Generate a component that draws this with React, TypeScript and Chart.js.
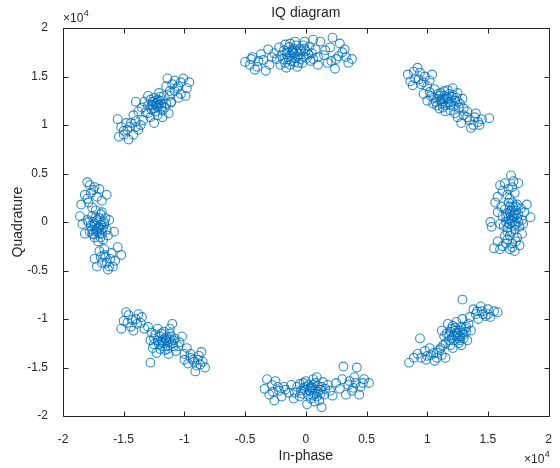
import React, { useEffect, useRef } from "react";
import { Chart, registerables } from "chart.js";

Chart.register(...registerables);

// Values in units of 1e4 (In-phase, Quadrature)
const clusterTop: [number, number][] = [
  [-0.10, 1.74], [-0.05, 1.78], [-0.15, 1.70], [-0.02, 1.70], [-0.18, 1.77], [-0.08, 1.82], [-0.12, 1.66], [0.00, 1.76],
  [-0.20, 1.72], [-0.06, 1.73], [-0.14, 1.80], [0.03, 1.81], [-0.09, 1.69], [-0.17, 1.64], [-0.03, 1.64], [-0.22, 1.80],
  [0.05, 1.74], [-0.11, 1.77], [-0.07, 1.60], [-0.24, 1.68], [-0.01, 1.86], [-0.13, 1.84], [0.06, 1.68], [-0.16, 1.59],
  [-0.50, 1.65], [-0.44, 1.70], [-0.40, 1.60], [-0.35, 1.67], [-0.30, 1.62], [-0.42, 1.57], [-0.33, 1.56], [-0.28, 1.70],
  [-0.46, 1.62], [-0.37, 1.73], [-0.31, 1.78],
  [0.15, 1.72], [0.20, 1.80], [0.25, 1.68], [0.30, 1.75], [0.18, 1.64], [0.28, 1.84], [0.33, 1.70], [0.35, 1.64],
  [0.12, 1.86], [0.22, 1.90], [0.10, 1.62], [0.24, 1.58], [0.32, 1.78],
  [-0.08, 1.76], [-0.12, 1.72], [-0.04, 1.68], [-0.19, 1.68], [-0.10, 1.79], [0.02, 1.73], [-0.15, 1.75], [-0.06, 1.64],
  [-0.21, 1.62], [0.08, 1.78], [-0.01, 1.79], [-0.13, 1.62], [0.10, 1.70], [-0.26, 1.74], [0.04, 1.66], [-0.09, 1.86],
  [-0.17, 1.83], [0.16, 1.77], [0.27, 1.71], [0.21, 1.66], [-0.39, 1.66], [-0.45, 1.68], [0.38, 1.68], [0.06, 1.88],
  [-0.11, 1.75], [-0.07, 1.71], [-0.14, 1.68], [-0.04, 1.76], [-0.09, 1.65], [-0.16, 1.73], [-0.02, 1.82], [0.01, 1.69],
];
const clusterTopRight: [number, number][] = [
  [1.15, 1.27], [1.10, 1.30], [1.20, 1.24], [1.12, 1.22], [1.18, 1.32], [1.05, 1.28], [1.24, 1.28], [1.14, 1.35],
  [1.08, 1.20], [1.22, 1.19], [1.17, 1.27], [1.02, 1.34], [1.27, 1.22], [1.11, 1.26], [1.19, 1.15], [1.06, 1.37],
  [1.25, 1.33], [1.13, 1.18], [1.00, 1.25], [1.21, 1.38],
  [0.84, 1.52], [0.90, 1.48], [0.92, 1.59], [0.95, 1.42], [0.98, 1.50], [0.88, 1.41], [1.02, 1.46], [0.94, 1.54],
  [0.86, 1.45], [1.00, 1.40], [1.04, 1.52],
  [1.30, 1.10], [1.35, 1.05], [1.40, 1.12], [1.28, 1.02], [1.38, 1.00], [1.45, 1.06], [1.51, 1.07], [1.33, 1.14],
  [1.25, 1.08], [1.43, 1.00], [1.36, 0.97], [1.30, 1.17],
  [1.16, 1.29], [1.12, 1.24], [1.19, 1.21], [1.09, 1.32], [1.23, 1.25], [1.14, 1.30], [1.07, 1.24], [1.17, 1.36],
  [1.26, 1.18], [1.03, 1.30], [1.20, 1.29], [1.10, 1.17], [1.29, 1.27], [0.97, 1.32], [1.15, 1.14], [0.93, 1.47],
  [0.89, 1.55], [1.33, 1.08], [1.42, 1.03], [1.39, 1.08], [1.23, 1.12], [0.97, 1.44],
  [1.13, 1.27], [1.17, 1.23], [1.11, 1.33], [1.21, 1.31], [1.15, 1.20], [1.08, 1.27], [1.25, 1.24], [1.05, 1.22],
];
const clusterRight: [number, number][] = [
  [1.70, 0.04], [1.68, 0.10], [1.73, -0.02], [1.65, 0.00], [1.75, 0.08], [1.71, 0.15], [1.66, -0.06], [1.78, 0.02],
  [1.62, 0.06], [1.69, -0.10], [1.74, 0.18], [1.72, -0.08], [1.64, 0.13], [1.80, 0.10], [1.67, 0.20], [1.76, -0.05],
  [1.70, 0.00], [1.60, -0.02], [1.82, 0.18], [1.85, 0.05], [1.58, 0.10],
  [1.69, 0.48], [1.64, 0.40], [1.70, 0.36], [1.62, 0.32], [1.72, 0.30], [1.66, 0.28], [1.60, 0.38], [1.75, 0.40],
  [1.68, 0.24], [1.58, 0.26],
  [1.66, -0.18], [1.70, -0.22], [1.62, -0.25], [1.74, -0.16], [1.68, -0.28], [1.58, -0.20], [1.72, -0.30], [1.64, -0.14],
  [1.76, -0.24], [1.55, -0.27], [1.78, -0.12], [1.52, 0.00], [1.53, -0.05],
  [1.71, 0.07], [1.67, 0.04], [1.73, 0.12], [1.69, 0.02], [1.74, 0.04], [1.66, 0.09], [1.72, -0.04], [1.68, 0.16],
  [1.77, 0.14], [1.63, -0.04], [1.70, 0.20], [1.79, -0.02], [1.61, 0.16], [1.68, -0.14], [1.67, 0.34], [1.71, 0.42],
  [1.65, -0.22], [1.70, -0.26], [1.60, -0.28], [1.73, -0.20], [1.56, 0.20],
  [1.70, 0.06], [1.72, 0.09], [1.68, -0.02], [1.65, 0.06], [1.75, 0.00], [1.69, 0.12], [1.73, 0.16], [1.66, -0.10],
];
const clusterBottomRight: [number, number][] = [
  [1.25, -1.15], [1.20, -1.10], [1.30, -1.20], [1.22, -1.22], [1.28, -1.08], [1.18, -1.17], [1.32, -1.13], [1.26, -1.25],
  [1.15, -1.25], [1.24, -1.03], [1.34, -1.05], [1.21, -1.30], [1.29, -1.00], [1.12, -1.12], [1.27, -1.18], [1.17, -1.05],
  [1.33, -1.22], [1.23, -1.12],
  [1.40, -0.95], [1.45, -0.92], [1.50, -0.90], [1.42, -1.00], [1.48, -0.97], [1.55, -0.92], [1.38, -0.90], [1.52, -0.98],
  [1.44, -0.87], [1.35, -0.98], [1.29, -0.80], [1.58, -0.93],
  [1.05, -1.35], [1.00, -1.38], [1.10, -1.32], [0.95, -1.40], [1.08, -1.40], [1.02, -1.30], [0.98, -1.33], [1.12, -1.37],
  [0.92, -1.36], [1.06, -1.43], [0.85, -1.45], [0.94, -1.20], [1.15, -1.40],
  [1.24, -1.14], [1.27, -1.12], [1.22, -1.17], [1.19, -1.13], [1.30, -1.16], [1.26, -1.20], [1.21, -1.07], [1.31, -1.10],
  [1.18, -1.22], [1.28, -1.27], [1.14, -1.18], [1.36, -1.12], [1.11, -1.30], [1.46, -0.95], [1.41, -0.92], [1.50, -0.95],
  [1.03, -1.37], [1.08, -1.35], [0.99, -1.42], [1.13, -1.27], [0.89, -1.40],
  [1.25, -1.18], [1.23, -1.09], [1.29, -1.14], [1.20, -1.20], [1.27, -1.22], [1.16, -1.15], [1.32, -1.08], [1.19, -1.27],
];
const clusterBottom: [number, number][] = [
  [0.05, -1.72], [0.00, -1.70], [0.10, -1.75], [0.02, -1.78], [0.08, -1.66], [-0.04, -1.74], [0.13, -1.70], [0.06, -1.62],
  [-0.02, -1.66], [0.15, -1.78], [0.04, -1.82], [-0.07, -1.70], [0.11, -1.84], [0.18, -1.68], [-0.05, -1.80], [0.09, -1.60],
  [0.01, -1.88], [0.20, -1.74], [0.13, -1.91],
  [-0.34, -1.72], [-0.28, -1.68], [-0.22, -1.74], [-0.18, -1.70], [-0.30, -1.78], [-0.25, -1.64], [-0.20, -1.80], [-0.14, -1.76],
  [-0.32, -1.62], [-0.26, -1.84], [-0.12, -1.68],
  [0.30, -1.62], [0.35, -1.68], [0.40, -1.60], [0.45, -1.70], [0.38, -1.74], [0.31, -1.49], [0.42, -1.50], [0.48, -1.62],
  [0.52, -1.66], [0.28, -1.72], [0.33, -1.78], [0.44, -1.78], [0.25, -1.66],
  [0.05, -1.70], [0.03, -1.74], [0.07, -1.77], [-0.01, -1.73], [0.12, -1.73], [0.06, -1.68], [-0.03, -1.77], [0.09, -1.80],
  [0.16, -1.72], [0.00, -1.64], [0.14, -1.65], [-0.09, -1.76], [0.07, -1.85], [-0.23, -1.70], [-0.27, -1.75], [-0.17, -1.73],
  [0.36, -1.64], [0.41, -1.66], [0.39, -1.71], [0.47, -1.66], [0.22, -1.79], [-0.10, -1.82],
  [0.04, -1.71], [0.08, -1.73], [0.02, -1.68], [0.10, -1.69], [-0.02, -1.71], [0.06, -1.79], [0.12, -1.77], [-0.05, -1.67],
];
const clusterBottomLeft: [number, number][] = [
  [-1.15, -1.22], [-1.20, -1.18], [-1.10, -1.25], [-1.18, -1.28], [-1.12, -1.15], [-1.25, -1.20], [-1.08, -1.20], [-1.16, -1.32],
  [-1.22, -1.10], [-1.05, -1.28], [-1.27, -1.14], [-1.13, -1.36], [-1.19, -1.24], [-1.02, -1.18], [-1.30, -1.08], [-1.10, -1.05],
  [-1.23, -1.35], [-1.07, -1.33],
  [-1.46, -0.96], [-1.50, -1.02], [-1.40, -1.00], [-1.44, -1.08], [-1.36, -1.04], [-1.48, -0.93], [-1.38, -0.95], [-1.42, -1.12],
  [-1.33, -1.10], [-1.52, -1.10], [-1.35, -0.98],
  [-0.93, -1.42], [-0.88, -1.38], [-0.97, -1.46], [-0.90, -1.48], [-0.85, -1.44], [-0.95, -1.36], [-0.83, -1.50], [-1.00, -1.42],
  [-0.91, -1.54], [-0.86, -1.34], [-1.28, -1.45], [-0.98, -1.30],
  [-1.16, -1.20], [-1.13, -1.24], [-1.18, -1.22], [-1.11, -1.18], [-1.21, -1.26], [-1.14, -1.28], [-1.24, -1.16], [-1.09, -1.22],
  [-1.17, -1.13], [-1.20, -1.31], [-1.04, -1.24], [-1.28, -1.22], [-1.12, -1.10], [-1.43, -1.01], [-1.39, -1.05], [-1.47, -1.04],
  [-0.92, -1.44], [-0.89, -1.42], [-0.95, -1.40], [-0.87, -1.47], [-1.26, -1.30], [-1.00, -1.36],
  [-1.15, -1.19], [-1.17, -1.25], [-1.12, -1.21], [-1.22, -1.22], [-1.19, -1.15], [-1.09, -1.28], [-1.14, -1.31], [-1.25, -1.26],
];
const clusterLeft: [number, number][] = [
  [-1.72, -0.07], [-1.75, 0.00], [-1.68, -0.12], [-1.70, 0.04], [-1.78, -0.10], [-1.66, -0.02], [-1.74, -0.16], [-1.80, 0.02],
  [-1.69, 0.08], [-1.64, -0.08], [-1.77, -0.04], [-1.71, -0.20], [-1.82, -0.12], [-1.62, 0.02], [-1.73, 0.12], [-1.67, -0.18],
  [-1.58, -0.10], [-1.84, -0.02], [-1.76, 0.06],
  [-1.78, 0.38], [-1.75, 0.33], [-1.82, 0.28], [-1.72, 0.26], [-1.79, 0.20], [-1.70, 0.34], [-1.85, 0.18], [-1.68, 0.22],
  [-1.76, 0.15], [-1.64, 0.28], [-1.80, 0.41],
  [-1.65, -0.36], [-1.60, -0.32], [-1.68, -0.42], [-1.62, -0.46], [-1.70, -0.30], [-1.57, -0.40], [-1.66, -0.28], [-1.74, -0.38],
  [-1.55, -0.26], [-1.63, -0.49], [-1.72, -0.46], [-1.52, -0.34],
  [-1.71, -0.05], [-1.73, -0.09], [-1.69, -0.03], [-1.74, -0.02], [-1.70, -0.12], [-1.76, -0.08], [-1.67, -0.06], [-1.72, 0.02],
  [-1.75, -0.13], [-1.65, 0.04], [-1.79, 0.00], [-1.68, 0.10], [-1.63, -0.14], [-1.77, 0.30], [-1.74, 0.36], [-1.80, 0.24],
  [-1.66, -0.34], [-1.61, -0.38], [-1.69, -0.36], [-1.64, -0.42], [-1.59, -0.46], [-1.86, 0.06],
  [-1.72, -0.10], [-1.70, -0.06], [-1.74, -0.04], [-1.68, -0.08], [-1.73, 0.05], [-1.76, -0.12], [-1.69, -0.16], [-1.66, 0.00],
];
const clusterTopLeft: [number, number][] = [
  [-1.23, 1.20], [-1.20, 1.25], [-1.27, 1.16], [-1.18, 1.15], [-1.25, 1.28], [-1.30, 1.20], [-1.15, 1.22], [-1.22, 1.10],
  [-1.28, 1.08], [-1.17, 1.30], [-1.32, 1.13], [-1.21, 1.33], [-1.13, 1.12], [-1.26, 1.24], [-1.35, 1.18],
  [-1.54, 0.88], [-1.50, 0.94], [-1.45, 0.98], [-1.42, 0.90], [-1.48, 1.02], [-1.40, 1.04], [-1.52, 0.98], [-1.38, 0.95],
  [-1.46, 0.85], [-1.36, 1.00], [-1.55, 1.06], [-1.42, 1.10],
  [-1.06, 1.38], [-1.01, 1.48], [-1.10, 1.42], [-1.03, 1.32], [-0.98, 1.38], [-1.08, 1.46], [-1.12, 1.35], [-0.96, 1.44],
  [-1.05, 1.28], [-1.14, 1.48], [-0.99, 1.30],
  [-1.24, 1.22], [-1.22, 1.18], [-1.26, 1.20], [-1.19, 1.22], [-1.24, 1.14], [-1.28, 1.26], [-1.20, 1.29], [-1.16, 1.18],
  [-1.30, 1.12], [-1.33, 1.24], [-1.18, 1.08], [-1.11, 1.24], [-1.38, 1.14], [-1.34, 1.05], [-1.47, 0.95], [-1.44, 1.02],
  [-1.50, 0.90], [-1.40, 0.98], [-1.05, 1.40], [-1.08, 1.35], [-1.03, 1.44], [-1.12, 1.30], [-1.15, 1.40], [-1.30, 1.30],
  [-1.40, 1.24], [-1.11, 1.23], [-1.25, 1.02],
  [-1.23, 1.23], [-1.21, 1.21], [-1.25, 1.17], [-1.22, 1.26], [-1.19, 1.19], [-1.27, 1.21],
];

const clusters = [
  clusterTop, clusterTopRight, clusterRight, clusterBottomRight,
  clusterBottom, clusterBottomLeft, clusterLeft, clusterTopLeft,
];

const tickValues = [-2, -1.5, -1, -0.5, 0, 0.5, 1, 1.5, 2];

const TEXT = "#262626";
const FONT = "'Liberation Sans', Arial, Helvetica, sans-serif";
const MARK = "rgba(0,114,189,0.8)";

const decorPlugin = {
  id: "matlabDecor",
  afterDraw(chart: any) {
    const { ctx, chartArea } = chart;
    const { left, right, top, bottom } = chartArea;
    const xs = chart.scales.x;
    const ys = chart.scales.y;
    ctx.save();
    ctx.strokeStyle = TEXT;
    ctx.lineWidth = 1;
    const L = Math.round(left) + 0.5, R = Math.round(right) + 0.5;
    const T = Math.round(top) + 0.5, B = Math.round(bottom) + 0.5;
    ctx.beginPath();
    ctx.rect(L, T, R - L, B - T);
    const tl = 5;
    for (const v of tickValues) {
      const px = Math.round(xs.getPixelForValue(v)) + 0.5;
      ctx.moveTo(px, B); ctx.lineTo(px, B - tl);
      ctx.moveTo(px, T); ctx.lineTo(px, T + tl);
      const py = Math.round(ys.getPixelForValue(v)) + 0.5;
      ctx.moveTo(L, py); ctx.lineTo(L + tl, py);
      ctx.moveTo(R, py); ctx.lineTo(R - tl, py);
    }
    ctx.stroke();

    ctx.fillStyle = TEXT;
    ctx.font = `14px ${FONT}`;
    ctx.textAlign = "center";
    ctx.textBaseline = "middle";
    ctx.fillText("IQ diagram", (left + right) / 2, 13);
    ctx.fillText("In-phase", (left + right) / 2, 456);
    ctx.save();
    ctx.translate(18, (top + bottom) / 2);
    ctx.rotate(-Math.PI / 2);
    ctx.fillText("Quadrature", 0, 0);
    ctx.restore();

    const drawExp = (x: number, y: number) => {
      ctx.textAlign = "left";
      ctx.textBaseline = "alphabetic";
      ctx.font = `12px ${FONT}`;
      ctx.fillText("\u00d710", x, y);
      const w = ctx.measureText("\u00d710").width;
      ctx.font = `9px ${FONT}`;
      ctx.fillText("4", x + w + 0.5, y - 6);
    };
    drawExp(63, 22);
    drawExp(524, 463);
    ctx.restore();
  },
};

export default function App() {
  const ref = useRef<HTMLCanvasElement | null>(null);
  useEffect(() => {
    if (!ref.current) return;
    const chart = new Chart(ref.current, {
      type: "scatter",
      data: {
        datasets: clusters.map((c) => ({
          data: c.map(([x, y]) => ({ x, y })),
          pointStyle: "circle",
          pointRadius: 4.4,
          pointBorderWidth: 1.1,
          borderColor: MARK,
          backgroundColor: "rgba(0,0,0,0)",
          pointBackgroundColor: "rgba(0,0,0,0)",
          pointBorderColor: MARK,
        })),
      },
      options: {
        responsive: false,
        animation: false,
        layout: { padding: { top: 28, right: 5, left: 0, bottom: 0 } },
        plugins: { legend: { display: false }, tooltip: { enabled: false }, title: { display: false } },
        scales: {
          x: {
            type: "linear",
            min: -2,
            max: 2,
            afterBuildTicks: (s: any) => { s.ticks = tickValues.map((v) => ({ value: v })); },
            afterFit: (s: any) => { s.height = 52; },
            ticks: {
              color: TEXT,
              font: { size: 12, family: FONT },
              padding: 8,
              maxRotation: 0,
              autoSkip: false,
              callback: (v: any) => String(v),
            },
            grid: { display: false },
            border: { display: false },
          },
          y: {
            type: "linear",
            min: -2,
            max: 2,
            afterBuildTicks: (s: any) => { s.ticks = tickValues.map((v) => ({ value: v })); },
            afterFit: (s: any) => { s.width = 63; },
            ticks: {
              color: TEXT,
              font: { size: 12, family: FONT },
              padding: 7,
              autoSkip: false,
              callback: (v: any) => String(v),
            },
            grid: { display: false },
            border: { display: false },
          },
        },
      },
      plugins: [decorPlugin],
    });
    return () => chart.destroy();
  }, []);
  return (
    <div style={{ position: "fixed", left: 0, top: 0, width: 560, height: 468, background: "#fff" }}>
      <canvas ref={ref} width={560} height={468} style={{ width: 560, height: 468, display: "block" }} />
    </div>
  );
}
